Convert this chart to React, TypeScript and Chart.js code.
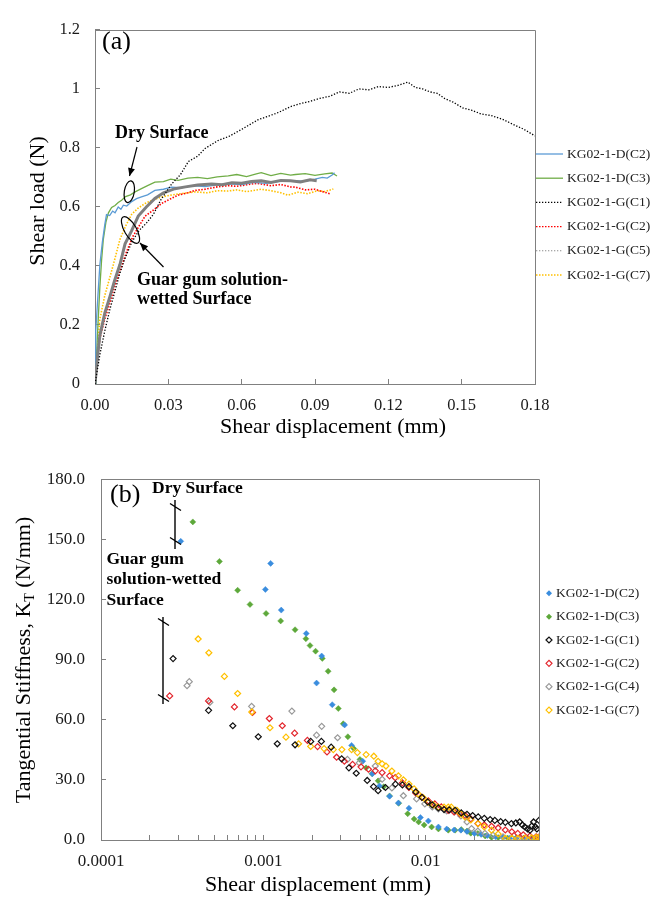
import React, { useEffect, useRef } from "react";
import { Chart, registerables } from "chart.js";

Chart.register(...registerables);

const SERIF = "'Liberation Serif', 'Times New Roman', Times, serif";

// ---------------- (a) Shear load vs shear displacement ----------------
const aLabels = ["KG02-1-D(C2)", "KG02-1-D(C3)", "KG02-1-G(C1)", "KG02-1-G(C2)", "KG02-1-G(C5)", "KG02-1-G(C7)"];

const aD2x = [0, 0.0003, 0.0007, 0.0012, 0.002, 0.003, 0.004, 0.0047, 0.006, 0.0072, 0.0082, 0.0095, 0.0106, 0.0116, 0.013, 0.015, 0.017, 0.019, 0.0215, 0.0245, 0.028, 0.0314, 0.035, 0.04, 0.045, 0.05, 0.0545, 0.06, 0.065, 0.07, 0.075, 0.082, 0.086, 0.09, 0.093, 0.095, 0.097, 0.098];
const aD2y = [0, 0.18, 0.232, 0.3, 0.405, 0.48, 0.54, 0.574, 0.571, 0.586, 0.58, 0.6, 0.592, 0.606, 0.603, 0.618, 0.628, 0.634, 0.641, 0.656, 0.66, 0.667, 0.665, 0.672, 0.669, 0.675, 0.678, 0.676, 0.683, 0.68, 0.686, 0.689, 0.687, 0.694, 0.7, 0.698, 0.708, 0.716];

const aD3x = [0, 0.0004, 0.0007, 0.0012, 0.002, 0.0027, 0.0034, 0.0045, 0.0055, 0.0068, 0.0082, 0.0095, 0.0109, 0.0125, 0.0145, 0.0164, 0.019, 0.0215, 0.0245, 0.028, 0.031, 0.034, 0.038, 0.042, 0.046, 0.05, 0.0545, 0.058, 0.062, 0.066, 0.068, 0.072, 0.076, 0.08, 0.082, 0.086, 0.09, 0.094, 0.097, 0.099];
const aD3y = [0, 0.06, 0.11, 0.2, 0.33, 0.42, 0.49, 0.55, 0.58, 0.598, 0.605, 0.615, 0.623, 0.635, 0.641, 0.651, 0.662, 0.672, 0.684, 0.686, 0.694, 0.69, 0.698, 0.7, 0.696, 0.702, 0.705, 0.71, 0.703, 0.712, 0.716, 0.706, 0.714, 0.708, 0.71, 0.713, 0.707, 0.712, 0.715, 0.705];

const aG1x = [0, 0.001, 0.002, 0.004, 0.006, 0.008, 0.01, 0.012, 0.015, 0.018, 0.021, 0.0239, 0.027, 0.0314, 0.035, 0.0382, 0.042, 0.045, 0.0503, 0.055, 0.06, 0.0635, 0.0668, 0.07, 0.075, 0.08, 0.084, 0.088, 0.092, 0.096, 0.1, 0.104, 0.108, 0.112, 0.116, 0.12, 0.124, 0.128, 0.131, 0.134, 0.137, 0.14, 0.143, 0.1465, 0.1506, 0.154, 0.158, 0.162, 0.167, 0.171, 0.175, 0.18];
const aG1y = [0, 0.05, 0.1, 0.18, 0.25, 0.31, 0.37, 0.42, 0.48, 0.52, 0.545, 0.575, 0.625, 0.678, 0.71, 0.754, 0.772, 0.798, 0.825, 0.84, 0.863, 0.88, 0.896, 0.905, 0.92, 0.94, 0.95, 0.958, 0.968, 0.975, 0.99, 0.985, 1.0, 0.997, 1.008, 1.005, 1.012, 1.023, 1.005, 1.0, 0.99, 0.985, 0.968, 0.955, 0.935, 0.928, 0.915, 0.91, 0.896, 0.88, 0.865, 0.841];

const aG2x = [0, 0.001, 0.002, 0.004, 0.0061, 0.008, 0.01, 0.013, 0.0155, 0.018, 0.0205, 0.024, 0.0273, 0.031, 0.034, 0.038, 0.041, 0.045, 0.05, 0.0545, 0.058, 0.062, 0.066, 0.068, 0.072, 0.076, 0.08, 0.082, 0.086, 0.09, 0.093, 0.096];
const aG2y = [0, 0.08, 0.155, 0.22, 0.275, 0.33, 0.38, 0.45, 0.5, 0.535, 0.569, 0.59, 0.612, 0.628, 0.64, 0.648, 0.656, 0.66, 0.668, 0.672, 0.67, 0.675, 0.68, 0.678, 0.672, 0.676, 0.668, 0.667, 0.658, 0.66, 0.652, 0.645];

const aG5x = [0, 0.001, 0.002, 0.004, 0.0061, 0.008, 0.0102, 0.0123, 0.015, 0.0177, 0.021, 0.0245, 0.028, 0.0327, 0.037, 0.042, 0.0477, 0.052, 0.056, 0.06, 0.064, 0.068, 0.072, 0.076, 0.08, 0.084, 0.088, 0.0907];
const aG5y = [0, 0.09, 0.165, 0.24, 0.296, 0.35, 0.405, 0.475, 0.52, 0.569, 0.6, 0.629, 0.648, 0.662, 0.668, 0.674, 0.678, 0.675, 0.682, 0.68, 0.686, 0.689, 0.683, 0.69, 0.689, 0.685, 0.692, 0.689];

const aG7x = [0, 0.001, 0.002, 0.004, 0.0061, 0.008, 0.0102, 0.0125, 0.015, 0.0175, 0.0205, 0.024, 0.0273, 0.031, 0.035, 0.041, 0.046, 0.05, 0.0545, 0.058, 0.062, 0.068, 0.072, 0.076, 0.079, 0.083, 0.087, 0.091, 0.094, 0.0975];
const aG7y = [0, 0.12, 0.22, 0.3, 0.362, 0.42, 0.49, 0.535, 0.575, 0.595, 0.612, 0.625, 0.634, 0.64, 0.645, 0.651, 0.648, 0.655, 0.654, 0.658, 0.652, 0.66, 0.655, 0.648, 0.64, 0.65, 0.645, 0.655, 0.652, 0.661];

// ---------------- (b) Tangential stiffness vs shear displacement ----------------
const bLabels = ["KG02-1-D(C2)", "KG02-1-D(C3)", "KG02-1-G(C1)", "KG02-1-G(C2)", "KG02-1-G(C4)", "KG02-1-G(C7)"];

const bD2x = [0.00031, 0.00103, 0.00111, 0.00129, 0.00184, 0.00213, 0.00229, 0.00266, 0.00317, 0.0035, 0.0041, 0.0047, 0.0052, 0.006, 0.0068, 0.0079, 0.0093, 0.0104, 0.012, 0.0135, 0.015, 0.0165, 0.018, 0.02, 0.022, 0.024, 0.027, 0.03, 0.033, 0.036, 0.04, 0.044, 0.048];
const bD2y = [149, 125, 138, 114.7, 103, 78.3, 91.8, 67.5, 57.4, 47.2, 39.3, 33, 27, 21.8, 18.5, 15.9, 11.2, 9.5, 6.5, 5.5, 5, 4.9, 4.2, 3.3, 2.8, 2.2, 1.6, 1.2, 0.9, 0.8, 0.6, 0.5, 0.5];

const bD3x = [0.000368, 0.000537, 0.000695, 0.000828, 0.00104, 0.00128, 0.00157, 0.00183, 0.00194, 0.0021, 0.00231, 0.00251, 0.00273, 0.0029, 0.00311, 0.00332, 0.00361, 0.00394, 0.0043, 0.00468, 0.0051, 0.00552, 0.006, 0.00683, 0.00776, 0.0085, 0.00906, 0.0098, 0.0109, 0.012, 0.0138, 0.0152, 0.0166, 0.018, 0.019, 0.021, 0.0233, 0.0255, 0.028, 0.032, 0.036, 0.04, 0.045, 0.05];
const bD3y = [158.7, 139, 124.6, 117.5, 113, 109.3, 104.9, 100.4, 97, 94.2, 90.6, 84.2, 74.9, 65.6, 58, 51.5, 45.6, 40.2, 36, 33.1, 29.5, 26.6, 22, 18.3, 13.1, 10.5, 9, 7.5, 6.5, 5.5, 4.9, 4.9, 5.2, 4.5, 3.4, 3.3, 2, 1.3, 1.2, 1, 0.9, 0.8, 0.8, 0.8];

const bG1x = [0.000278, 0.00046, 0.000649, 0.000932, 0.00122, 0.00157, 0.00196, 0.00228, 0.00262, 0.00304, 0.00337, 0.00374, 0.00437, 0.00478, 0.0051, 0.00566, 0.00652, 0.0072, 0.0079, 0.0087, 0.0095, 0.0103, 0.011, 0.012, 0.013, 0.014, 0.0152, 0.0166, 0.018, 0.0195, 0.0211, 0.023, 0.025, 0.0267, 0.029, 0.031, 0.0338, 0.036, 0.038, 0.0395, 0.0409, 0.0425, 0.044, 0.0452, 0.0463, 0.0475, 0.0485, 0.05];
const bG1y = [90.5, 64.7, 57, 51.5, 48, 47.5, 49.2, 49.2, 46.3, 40.5, 36, 33.3, 29.7, 26.6, 24.6, 26.2, 27.9, 27.5, 26.6, 24, 21.3, 19, 17.5, 16, 15.2, 15, 14.8, 13.5, 12.8, 12.2, 11.5, 10.8, 10.2, 9.8, 9.2, 8.8, 8.2, 8.5, 9, 7.5, 6.5, 5.5, 4.9, 7, 9, 6.5, 5.5, 9.8];

const bG2x = [0.000265, 0.00046, 0.000664, 0.000858, 0.00109, 0.00131, 0.00156, 0.00187, 0.00216, 0.00247, 0.00283, 0.00316, 0.00355, 0.004, 0.00445, 0.0049, 0.0054, 0.006, 0.0065, 0.0072, 0.0079, 0.0087, 0.0095, 0.0104, 0.0114, 0.0125, 0.0138, 0.015, 0.0162, 0.0175, 0.019, 0.021, 0.023, 0.0255, 0.028, 0.031, 0.034, 0.037, 0.04, 0.044, 0.048, 0.05];
const bG2y = [71.9, 69.4, 66.4, 63.6, 60.6, 57, 53.3, 49.7, 46.6, 43.9, 41.3, 39.3, 37.7, 36.5, 35.3, 34.5, 33.6, 32, 31.1, 28.5, 26.2, 23.5, 21.3, 19.5, 18, 16.5, 14.8, 14, 13.2, 12.3, 10.5, 8.2, 7.5, 6.8, 6, 5, 4.1, 3.3, 2.6, 2, 1.6, 1.4];

const bG4x = [0.000339, 0.00035, 0.000469, 0.000847, 0.0015, 0.00213, 0.00229, 0.00287, 0.0033, 0.0039, 0.0049, 0.0054, 0.0062, 0.0073, 0.0088, 0.0099, 0.011, 0.012, 0.0135, 0.015, 0.0165, 0.018, 0.0192, 0.021, 0.0232, 0.026, 0.03, 0.034, 0.038, 0.043, 0.048];
const bG4y = [77, 79, 68.7, 66.7, 64.3, 52.3, 56.7, 51, 40.2, 38.5, 36.9, 30.3, 26, 22.1, 20.5, 18, 16.5, 15.5, 14.5, 14, 12, 9, 5.7, 4.5, 3.3, 2.5, 1.6, 1, 0.8, 0.5, 0.5];

const bG7x = [0.000397, 0.000462, 0.000576, 0.000695, 0.00085, 0.0011, 0.00138, 0.00165, 0.00196, 0.00237, 0.0027, 0.00305, 0.0035, 0.0038, 0.0043, 0.0048, 0.0051, 0.0054, 0.0057, 0.0062, 0.0068, 0.0073, 0.0079, 0.0085, 0.009, 0.0097, 0.0104, 0.0112, 0.012, 0.013, 0.0138, 0.0144, 0.0156, 0.0165, 0.0175, 0.019, 0.0211, 0.023, 0.0255, 0.028, 0.031, 0.034, 0.037, 0.041, 0.045, 0.048, 0.05];
const bG7y = [100.3, 93.4, 81.6, 73.1, 63.9, 56, 51.3, 48, 46.7, 45.6, 45.1, 45.1, 45.1, 43.6, 42.6, 41.8, 39.3, 38, 36.9, 34.4, 32, 30, 27.9, 25.5, 23, 21, 18.8, 17.5, 16.4, 16.4, 16.4, 16.4, 14.8, 13, 11.5, 10, 8.2, 6.5, 4.9, 3, 0.8, 0.8, 0.8, 1, 1.1, 1.3, 1.3];

// ---------------- helpers ----------------
function toPoints(xs: number[], ys: number[]) {
  return xs.map((x, i) => ({ x, y: ys[i] }));
}

const AXIS_GRAY = "#808080";
const TICK_TEXT = "#1a1a1a";

function drawArrow(ctx: CanvasRenderingContext2D, x1: number, y1: number, x2: number, y2: number) {
  ctx.beginPath();
  ctx.moveTo(x1, y1);
  ctx.lineTo(x2, y2);
  ctx.stroke();
  const ang = Math.atan2(y2 - y1, x2 - x1);
  const L = 8, W = 3.5;
  ctx.beginPath();
  ctx.moveTo(x2, y2);
  ctx.lineTo(x2 - L * Math.cos(ang) + W * Math.sin(ang), y2 - L * Math.sin(ang) - W * Math.cos(ang));
  ctx.lineTo(x2 - L * Math.cos(ang) - W * Math.sin(ang), y2 - L * Math.sin(ang) + W * Math.cos(ang));
  ctx.closePath();
  ctx.fill();
}

function drawFrame(ctx: CanvasRenderingContext2D, ca: any) {
  ctx.save();
  ctx.strokeStyle = AXIS_GRAY;
  ctx.lineWidth = 1;
  ctx.beginPath();
  ctx.moveTo(Math.round(ca.left) + 0.5, Math.round(ca.top) + 0.5);
  ctx.lineTo(Math.round(ca.right) + 0.5, Math.round(ca.top) + 0.5);
  ctx.lineTo(Math.round(ca.right) + 0.5, Math.round(ca.bottom) + 0.5);
  ctx.stroke();
  ctx.restore();
}

function bracket(ctx: CanvasRenderingContext2D, x: number, y1: number, y2: number, c1: number, c2: number) {
  ctx.beginPath();
  ctx.moveTo(x, y1);
  ctx.lineTo(x, y2);
  for (const c of [c1, c2]) {
    ctx.moveTo(x - 5, c - 3.5);
    ctx.lineTo(x + 6, c + 3.5);
  }
  ctx.stroke();
}

const styleA = [
  { color: "#5B9BD5", width: 1.3, dash: [] as number[], lColor: "#5B9BD5", lWidth: 1.3, lDash: [] as number[], order: 2 },
  { color: "#70AD47", width: 1.3, dash: [], lColor: "#70AD47", lWidth: 1.3, lDash: [], order: 3 },
  { color: "#000000", width: 1.3, dash: [1.3, 1.7], lColor: "#000000", lWidth: 1.2, lDash: [1.3, 1.7], order: 0 },
  { color: "#FF0000", width: 1.6, dash: [1.5, 1.5], lColor: "#FF0000", lWidth: 1.3, lDash: [1.5, 1.5], order: 4 },
  { color: "#7F7F7F", width: 3, dash: [], lColor: "#8C8C8C", lWidth: 1.1, lDash: [1.3, 1.7], order: 1 },
  { color: "#FFC000", width: 1.6, dash: [1.5, 1.5], lColor: "#FFC000", lWidth: 1.3, lDash: [1.5, 1.5], order: 5 },
];

const styleB = [
  { color: "#3A8DDE", filled: true, order: 4 },
  { color: "#5DA83A", filled: true, order: 5 },
  { color: "#111111", filled: false, order: 0 },
  { color: "#E3262D", filled: false, order: 2 },
  { color: "#9A9A9A", filled: false, order: 3 },
  { color: "#FFC000", filled: false, order: 1 },
];

const pluginA = {
  id: "decorA",
  afterDraw(chart: any) {
    const ctx: CanvasRenderingContext2D = chart.ctx;
    const ca = chart.chartArea;
    drawFrame(ctx, ca);
    ctx.save();
    // legend
    ctx.font = `13.5px ${SERIF}`;
    ctx.textBaseline = "middle";
    ctx.textAlign = "left";
    chart.data.datasets.forEach((ds: any, i: number) => {
      const st = styleA[i];
      const y = 154 + i * 24.2;
      ctx.save();
      ctx.strokeStyle = st.lColor;
      ctx.lineWidth = st.lWidth;
      ctx.setLineDash(st.lDash);
      ctx.beginPath();
      ctx.moveTo(ca.right + 1, y);
      ctx.lineTo(ca.right + 28, y);
      ctx.stroke();
      ctx.restore();
      ctx.fillStyle = "#222222";
      ctx.fillText(ds.label, ca.right + 32, y);
    });
    // axis titles
    ctx.fillStyle = "#000000";
    ctx.font = `22px ${SERIF}`;
    ctx.textAlign = "center";
    ctx.fillText("Shear displacement (mm)", 333, 427);
    ctx.save();
    ctx.translate(38.5, 201);
    ctx.rotate(-Math.PI / 2);
    ctx.fillText("Shear load (N)", 0, 0);
    ctx.restore();
    // annotations
    ctx.textAlign = "left";
    ctx.font = `26px ${SERIF}`;
    ctx.fillText("(a)", 102, 42);
    ctx.font = `bold 18px ${SERIF}`;
    ctx.fillText("Dry Surface", 115, 133);
    ctx.fillText("Guar gum solution-", 137, 280);
    ctx.fillText("wetted Surface", 137, 299.5);
    ctx.strokeStyle = "#000000";
    ctx.fillStyle = "#000000";
    ctx.lineWidth = 1.2;
    drawArrow(ctx, 137, 147, 129.5, 176);
    drawArrow(ctx, 163.5, 267, 140, 243);
    ctx.beginPath();
    ctx.ellipse(129.3, 191.7, 5, 11, 0.16, 0, Math.PI * 2);
    ctx.stroke();
    ctx.beginPath();
    ctx.ellipse(130.5, 230, 6, 15, -0.52, 0, Math.PI * 2);
    ctx.stroke();
    ctx.restore();
  },
};

const pluginB = {
  id: "decorB",
  afterDraw(chart: any) {
    const ctx: CanvasRenderingContext2D = chart.ctx;
    const ca = chart.chartArea;
    drawFrame(ctx, ca);
    ctx.save();
    // legend
    ctx.font = `13.5px ${SERIF}`;
    ctx.textBaseline = "middle";
    ctx.textAlign = "left";
    chart.data.datasets.forEach((ds: any, i: number) => {
      const st = styleB[i];
      const y = 145.3 + i * 23.35;
      const x = ca.right + 10;
      const r = 3;
      ctx.beginPath();
      ctx.moveTo(x - r, y);
      ctx.lineTo(x, y - r);
      ctx.lineTo(x + r, y);
      ctx.lineTo(x, y + r);
      ctx.closePath();
      if (st.filled) {
        ctx.fillStyle = st.color;
        ctx.fill();
      } else {
        ctx.strokeStyle = st.color;
        ctx.lineWidth = 1.2;
        ctx.stroke();
      }
      ctx.fillStyle = "#222222";
      ctx.fillText(ds.label, ca.right + 17, y);
    });
    // axis titles
    ctx.fillStyle = "#000000";
    ctx.font = `22px ${SERIF}`;
    ctx.textAlign = "center";
    ctx.fillText("Shear displacement (mm)", 318, 437);
    ctx.save();
    ctx.translate(24, 212);
    ctx.rotate(-Math.PI / 2);
    const p1 = "Tangential Stiffness, K";
    const p2 = "T";
    const p3 = " (N/mm)";
    ctx.font = `22px ${SERIF}`;
    const w1 = ctx.measureText(p1).width;
    const w3 = ctx.measureText(p3).width;
    ctx.font = `14px ${SERIF}`;
    const w2 = ctx.measureText(p2).width;
    const total = w1 + w2 + w3;
    let cx = -total / 2;
    ctx.textAlign = "left";
    ctx.font = `22px ${SERIF}`;
    ctx.fillText(p1, cx, 0);
    cx += w1;
    ctx.font = `14px ${SERIF}`;
    ctx.fillText(p2, cx, 6);
    cx += w2;
    ctx.font = `22px ${SERIF}`;
    ctx.fillText(p3, cx, 0);
    ctx.restore();
    // annotations
    ctx.textAlign = "left";
    ctx.font = `26px ${SERIF}`;
    ctx.fillText("(b)", 110, 47);
    ctx.font = `bold 17.5px ${SERIF}`;
    ctx.fillText("Dry Surface", 152, 40);
    ctx.fillText("Guar gum", 106.5, 111);
    ctx.fillText("solution-wetted", 106.5, 131);
    ctx.fillText("Surface", 106.5, 152);
    ctx.strokeStyle = "#000000";
    ctx.lineWidth = 1.4;
    bracket(ctx, 175, 52, 101, 59, 93);
    bracket(ctx, 163, 169, 256, 174, 250);
    ctx.restore();
  },
};

export default function App() {
  const refA = useRef<HTMLCanvasElement>(null);
  const refB = useRef<HTMLCanvasElement>(null);

  useEffect(() => {
    const seriesA = [
      [aD2x, aD2y],
      [aD3x, aD3y],
      [aG1x, aG1y],
      [aG2x, aG2y],
      [aG5x, aG5y],
      [aG7x, aG7y],
    ];
    const seriesB = [
      [bD2x, bD2y],
      [bD3x, bD3y],
      [bG1x, bG1y],
      [bG2x, bG2y],
      [bG4x, bG4y],
      [bG7x, bG7y],
    ];

    const tickFontA = { family: SERIF, size: 16.5 };
    const tickFontB = { family: SERIF, size: 17 };

    const chartA = new Chart(refA.current!, {
      type: "scatter",
      data: {
        datasets: seriesA.map(([xs, ys], i) => ({
          label: aLabels[i],
          data: toPoints(xs, ys),
          showLine: true,
          borderColor: styleA[i].color,
          backgroundColor: styleA[i].color,
          borderWidth: styleA[i].width,
          borderDash: styleA[i].dash,
          pointRadius: 0,
          tension: 0,
          fill: false,
          order: styleA[i].order,
        })),
      },
      options: {
        responsive: false,
        animation: false,
        devicePixelRatio: 1,
        events: [],
        layout: { padding: { left: 0, top: 17, right: 132, bottom: 4 } },
        plugins: { legend: { display: false }, tooltip: { enabled: false } },
        scales: {
          x: {
            type: "linear",
            min: 0,
            max: 0.18,
            ticks: {
              stepSize: 0.03,
              callback: (v: any) => Number(v).toFixed(2),
              font: tickFontA,
              color: TICK_TEXT,
              padding: 17,
              maxRotation: 0,
              autoSkip: false,
            },
            grid: { drawOnChartArea: false, tickLength: -5, color: AXIS_GRAY, tickColor: AXIS_GRAY },
            border: { color: AXIS_GRAY, width: 1 },
            afterFit: (s: any) => {
              s.height = 60;
            },
          },
          y: {
            type: "linear",
            min: 0,
            max: 1.2,
            ticks: {
              stepSize: 0.2,
              callback: (v: any) => String(Math.round(Number(v) * 10) / 10),
              font: tickFontA,
              color: TICK_TEXT,
              padding: 20,
            },
            grid: { drawOnChartArea: false, tickLength: -5, color: AXIS_GRAY, tickColor: AXIS_GRAY },
            border: { color: AXIS_GRAY, width: 1 },
            afterFit: (s: any) => {
              s.width = 95;
            },
          },
        },
      } as any,
      plugins: [pluginA],
    });

    const chartB = new Chart(refB.current!, {
      type: "scatter",
      data: {
        datasets: seriesB.map(([xs, ys], i) => ({
          label: bLabels[i],
          data: toPoints(xs, ys),
          showLine: false,
          pointStyle: "rectRot",
          pointRadius: 3,
          pointBorderWidth: styleB[i].filled ? 0.5 : 1.2,
          borderColor: styleB[i].color,
          backgroundColor: styleB[i].filled ? styleB[i].color : "rgba(0,0,0,0)",
          order: styleB[i].order,
        })),
      },
      options: {
        responsive: false,
        animation: false,
        devicePixelRatio: 1,
        events: [],
        layout: { padding: { left: 0, top: 26, right: 128, bottom: 0 } },
        plugins: { legend: { display: false }, tooltip: { enabled: false } },
        scales: {
          x: {
            type: "logarithmic",
            min: 0.0001,
            max: 0.05,
            afterBuildTicks: (s: any) => {
              s.ticks = s.ticks.filter((t: any) => {
                const v = t.value;
                const m = v / Math.pow(10, Math.floor(Math.log10(v) + 1e-9));
                return Math.abs(m - Math.round(m)) < 1e-6;
              });
            },
            ticks: {
              callback: (v: any) => {
                const l = Math.log10(Number(v));
                return Math.abs(l - Math.round(l)) < 1e-9 ? String(Number(Number(v).toPrecision(6))) : "";
              },
              font: tickFontB,
              color: TICK_TEXT,
              padding: 16.8,
              maxRotation: 0,
              autoSkip: false,
            },
            grid: { drawOnChartArea: false, tickLength: -5, color: AXIS_GRAY, tickColor: AXIS_GRAY },
            border: { color: AXIS_GRAY, width: 1 },
            afterFit: (s: any) => {
              s.height = 57;
            },
          },
          y: {
            type: "linear",
            min: 0,
            max: 180,
            ticks: {
              stepSize: 30,
              callback: (v: any) => Number(v).toFixed(1),
              font: tickFontB,
              color: TICK_TEXT,
              padding: 21,
            },
            grid: { drawOnChartArea: false, tickLength: -5, color: AXIS_GRAY, tickColor: AXIS_GRAY },
            border: { color: AXIS_GRAY, width: 1 },
            afterFit: (s: any) => {
              s.width = 101;
            },
          },
        },
      } as any,
      plugins: [pluginB],
    });

    return () => {
      chartA.destroy();
      chartB.destroy();
    };
  }, []);

  return (
    <div style={{ position: "fixed", left: 0, top: 0, width: 667, height: 897, background: "#ffffff", overflow: "hidden" }}>
      <canvas
        ref={refA}
        width={667}
        height={448}
        style={{ position: "absolute", left: 0, top: 0, width: 667, height: 448, display: "block" }}
      />
      <canvas
        ref={refB}
        width={667}
        height={449}
        style={{ position: "absolute", left: 0, top: 448, width: 667, height: 449, display: "block" }}
      />
    </div>
  );
}
